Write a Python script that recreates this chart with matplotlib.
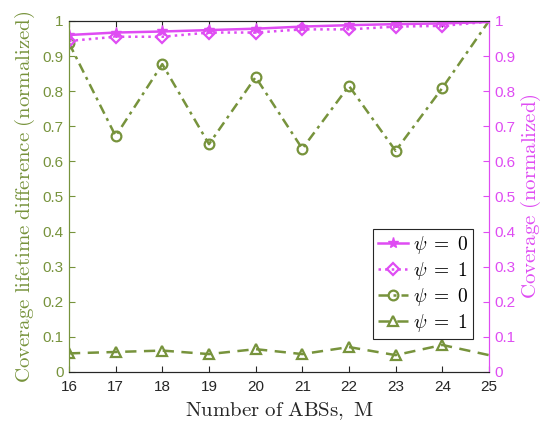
import matplotlib
matplotlib.use("Agg")
import matplotlib.pyplot as plt
import numpy as np

plt.rcParams['mathtext.fontset'] = 'cm'
plt.rcParams['font.family'] = ['Liberation Sans', 'DejaVu Sans']

# Number of ABSs
abs_count = [16, 17, 18, 19, 20, 21, 22, 23, 24, 25]

# Coverage lifetime difference (normalized), left axis
lifetime_psi0 = [0.937, 0.672, 0.877, 0.649, 0.840, 0.636, 0.815, 0.630, 0.809, 1.000]
lifetime_psi1 = [0.053, 0.057, 0.061, 0.051, 0.065, 0.051, 0.071, 0.048, 0.077, 0.048]

# Coverage (normalized), right axis
coverage_psi0 = [0.960, 0.967, 0.970, 0.974, 0.978, 0.984, 0.988, 0.991, 0.993, 0.997]
coverage_psi1 = [0.943, 0.955, 0.955, 0.967, 0.967, 0.976, 0.976, 0.984, 0.986, 0.998]

x_ticks = list(range(16, 26))
y_ticks = [0, 0.1, 0.2, 0.3, 0.4, 0.5, 0.6, 0.7, 0.8, 0.9, 1]
y_ticklabels = ['0', '0.1', '0.2', '0.3', '0.4', '0.5', '0.6', '0.7', '0.8', '0.9', '1']

green = '#77933C'
pink = '#DF4CF3'

fig = plt.figure(figsize=(5.44, 4.26), dpi=100)
ax = fig.add_axes([0.1268, 0.1268, 0.772, 0.824])
ax2 = ax.twinx()

marks = slice(0, 9)
l1, = ax2.plot(abs_count, coverage_psi0, '-', color=pink, lw=1.8, marker='*',
               ms=8, mfc=pink, mec=pink, markevery=marks)
l2, = ax2.plot(abs_count, coverage_psi1, ':', color=pink, lw=1.8, marker='D',
               ms=6, mfc='none', mec=pink, mew=1.6, markevery=marks)
l3, = ax.plot(abs_count, lifetime_psi0, '-.', color=green, lw=1.8, marker='o',
              ms=7, mfc='none', mec=green, mew=1.6, markevery=marks,
              dashes=(4, 2, 1.2, 2))
l4, = ax.plot(abs_count, lifetime_psi1, '--', color=green, lw=1.8, marker='^',
              ms=7, mfc='none', mec=green, mew=1.6, markevery=marks,
              dashes=(4.5, 3))

for a in (ax, ax2):
    a.set_xlim(16, 25)
    a.set_ylim(0, 1)
    a.set_yticks(y_ticks)
    a.set_yticklabels(y_ticklabels)

ax.set_xticks(x_ticks)
ax.tick_params(axis='x', direction='in', top=True, labelsize=11, length=4,
               colors='#262626', pad=6)
ax.tick_params(axis='y', direction='in', labelsize=11, length=4,
               colors=green, labelcolor=green, pad=4)
ax2.tick_params(axis='y', direction='in', labelsize=11, length=4,
                colors=pink, labelcolor=pink, pad=4)

ax.spines['left'].set_color(green)
ax2.spines['left'].set_color(green)
ax2.spines['right'].set_color(pink)
ax.spines['right'].set_color(pink)
for a in (ax, ax2):
    a.spines['top'].set_color('#262626')
    a.spines['bottom'].set_color('#262626')

ax.set_xlabel(r'$\mathrm{Number\ of\ ABSs,\ M}$', fontsize=15, color='#262626',
              labelpad=4)
ax.set_ylabel(r'$\mathrm{Coverage\ lifetime\ difference\ (normalized)}$',
              fontsize=15, color=green, labelpad=4)
ax2.set_ylabel(r'$\mathrm{Coverage\ (normalized)}$', fontsize=15, color=pink,
               labelpad=2)

leg = ax2.legend([l1, l2, l3, l4],
                 [r'$\psi\;=\;0$', r'$\psi\;=\;1$', r'$\psi\;=\;0$', r'$\psi\;=\;1$'],
                 loc='lower right', bbox_to_anchor=(0.962, 0.095), fontsize=14,
                 frameon=True, fancybox=False, framealpha=1, edgecolor='#262626',
                 handlelength=1.55, handletextpad=0.25, borderpad=0.25,
                 labelspacing=0.2, borderaxespad=0)
leg.get_frame().set_linewidth(0.8)

fig.savefig('out.png', dpi=100)
